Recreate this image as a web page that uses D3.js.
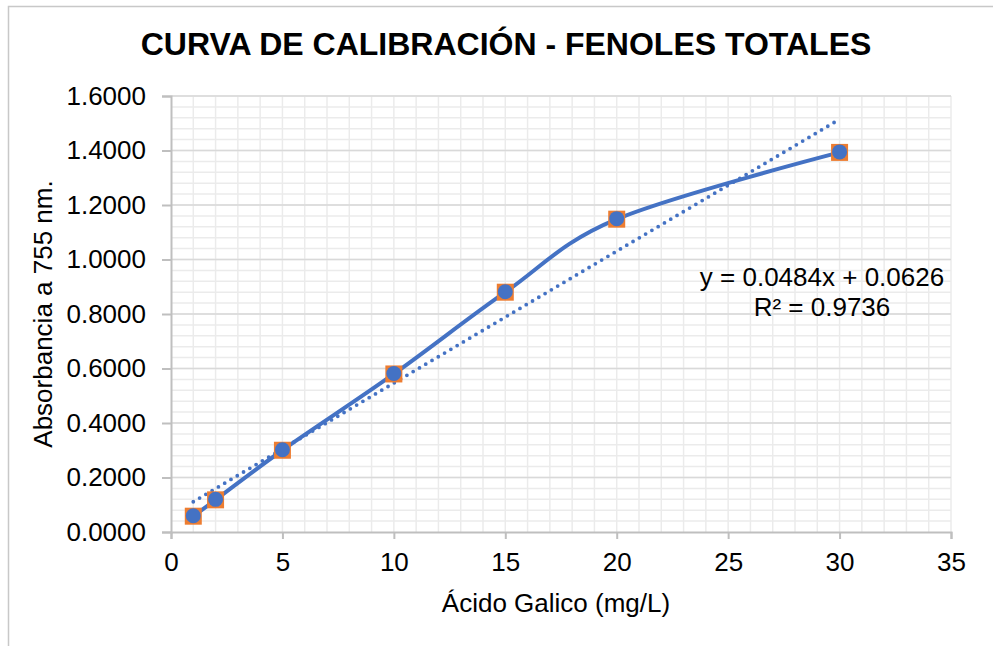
<!DOCTYPE html>
<html>
<head>
<meta charset="utf-8">
<script src="https://cdn.jsdelivr.net/npm/d3@7"></script>
<style>
  body { margin: 0; background: #fff; }
  text { font-family: "Liberation Sans", Arial, sans-serif; }
</style>
</head>
<body>
<svg id="chart" width="993" height="646"></svg>
<script>
// valores
var concentracion = [1, 2, 5, 10, 15, 20, 30];
var absorbancia = [0.058, 0.118, 0.300, 0.580, 0.880, 1.148, 1.393];
var yTicks = [0, 0.2, 0.4, 0.6, 0.8, 1.0, 1.2, 1.4, 1.6];
var xTicks = [0, 5, 10, 15, 20, 25, 30, 35];
var pendiente = 0.0484, intercepto = 0.0626;
var ecuacion = ["y = 0.0484x + 0.0626", "R² = 0.9736"];

var svg = d3.select("#chart");

var x = d3.scaleLinear().domain([0, 35]).range([171, 951]);
var y = d3.scaleLinear().domain([0, 1.6]).range([532, 96]);

var puntos = concentracion.map(function(c, i) { return {x: c, y: absorbancia[i]}; });

// borde del grafico
svg.append("rect")
    .attr("x", 8.5).attr("y", 6.5)
    .attr("width", 1000).attr("height", 700)
    .attr("fill", "#fff")
    .attr("stroke", "#c8c8c8")
    .attr("stroke-width", 1.5);

// cuadricula menor
var grid = svg.append("g").attr("class", "grid");
grid.selectAll("line.vx")
    .data(d3.range(1, 36))
    .enter().append("line")
    .attr("x1", function(d) { return x(d); })
    .attr("x2", function(d) { return x(d); })
    .attr("y1", y(0)).attr("y2", y(1.6))
    .attr("stroke", "#ebebeb")
    .attr("stroke-width", 1.5);

grid.selectAll("line.hy")
    .data(d3.range(1, 41).map(function(i) { return i * 0.04; }))
    .enter().append("line")
    .attr("x1", x(0)).attr("x2", x(35))
    .attr("y1", function(d) { return y(d); })
    .attr("y2", function(d) { return y(d); })
    .attr("stroke", "#ebebeb")
    .attr("stroke-width", 1.5);

// cuadricula mayor
grid.selectAll("line.major")
    .data(yTicks.slice(1))
    .enter().append("line")
    .attr("x1", x(0)).attr("x2", x(35))
    .attr("y1", function(d) { return y(d); })
    .attr("y2", function(d) { return y(d); })
    .attr("stroke", "#d9d9d9")
    .attr("stroke-width", 1.5);

// eje y
var yAxis = svg.append("g")
    .attr("transform", "translate(" + x(0) + ",0)")
    .call(d3.axisLeft(y).tickValues(yTicks).tickFormat(d3.format(".4f")).tickSize(9).tickPadding(16));

// eje x
var xAxis = svg.append("g")
    .attr("transform", "translate(0," + y(0) + ")")
    .call(d3.axisBottom(x).tickValues(xTicks).tickSize(7).tickPadding(14));

[yAxis, xAxis].forEach(function(ax) {
    ax.select(".domain").attr("stroke", "#bfbfbf").attr("stroke-width", 2);
    ax.selectAll(".tick line").attr("stroke", "#bfbfbf").attr("stroke-width", 2);
    ax.selectAll(".tick text")
        .attr("fill", "#000")
        .style("font-size", "26px")
        .style("font-family", "'Liberation Sans', Arial, sans-serif");
});
xAxis.selectAll(".tick text").attr("dy", "0.71em");

// linea de tendencia
svg.append("line")
    .attr("x1", x(1)).attr("y1", y(pendiente * 1 + intercepto))
    .attr("x2", x(30)).attr("y2", y(pendiente * 30 + intercepto))
    .attr("stroke", "#4472c4")
    .attr("stroke-width", 3.8)
    .attr("stroke-linecap", "round")
    .attr("stroke-dasharray", "0 7.3");

// curva suavizada
var linea = d3.line()
    .x(function(d) { return x(d.x); })
    .y(function(d) { return y(d.y); })
    .curve(d3.curveCatmullRom.alpha(0));

svg.append("path")
    .datum(puntos)
    .attr("d", linea)
    .attr("fill", "none")
    .attr("stroke", "#4472c4")
    .attr("stroke-width", 4);

// marcadores
svg.selectAll("rect.marca")
    .data(puntos)
    .enter().append("rect")
    .attr("class", "marca")
    .attr("x", function(d) { return x(d.x) - 8.5; })
    .attr("y", function(d) { return y(d.y) - 8.5; })
    .attr("width", 17).attr("height", 17)
    .attr("fill", "#ed7d31");

svg.selectAll("circle.marca")
    .data(puntos)
    .enter().append("circle")
    .attr("class", "marca")
    .attr("cx", function(d) { return x(d.x); })
    .attr("cy", function(d) { return y(d.y) - 0.5; })
    .attr("r", 7.5)
    .attr("fill", "#4472c4");

// ecuacion
svg.selectAll("text.ecuacion")
    .data(ecuacion)
    .enter().append("text")
    .attr("class", "ecuacion")
    .attr("x", 822)
    .attr("y", function(d, i) { return 286 + i * 30; })
    .attr("text-anchor", "middle")
    .style("font-size", "26px")
    .attr("fill", "#000")
    .text(function(d) { return d; });

// titulos
svg.append("text")
    .attr("x", 506).attr("y", 55)
    .attr("text-anchor", "middle")
    .style("font-size", "32px")
    .style("font-weight", "bold")
    .attr("fill", "#000")
    .text("CURVA DE CALIBRACIÓN - FENOLES TOTALES");

svg.append("text")
    .attr("x", 556).attr("y", 612)
    .attr("text-anchor", "middle")
    .style("font-size", "26px")
    .attr("fill", "#000")
    .text("Ácido Galico (mg/L)");

svg.append("text")
    .attr("transform", "translate(52," + 314 + ") rotate(-90)")
    .attr("text-anchor", "middle")
    .style("font-size", "26px")
    .attr("fill", "#000")
    .text("Absorbancia a 755 nm.");
</script>
</body>
</html>
